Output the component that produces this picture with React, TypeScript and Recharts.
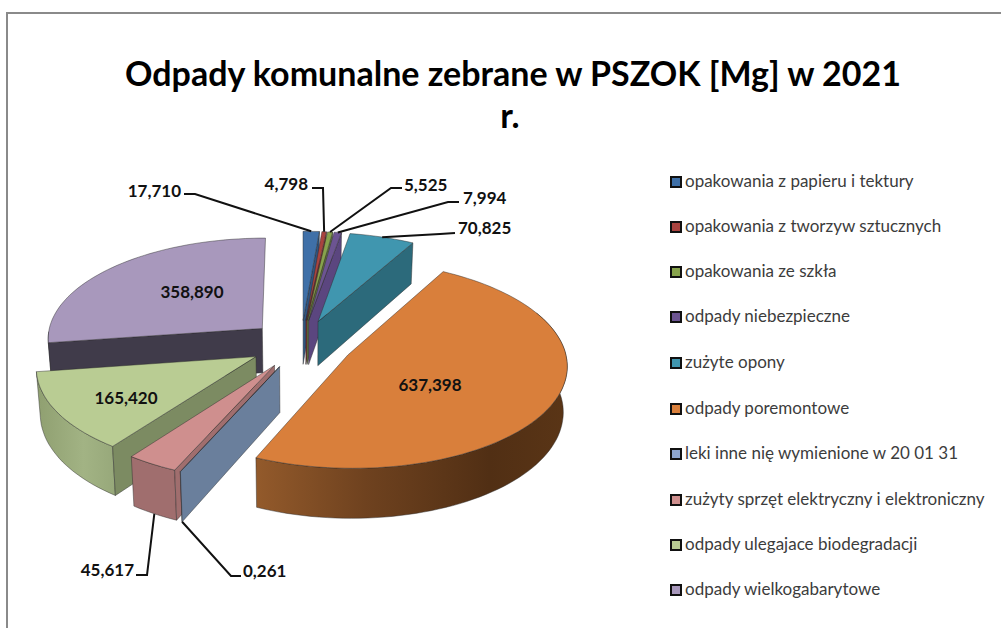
import { Legend, Pie, PieChart } from "recharts";

const categories = [
  "opakowania z papieru i tektury",
  "opakowania z tworzyw sztucznych",
  "opakowania ze szkła",
  "odpady niebezpieczne",
  "zużyte opony",
  "odpady poremontowe",
  "leki inne nię wymienione w 20 01 31",
  "zużyty sprzęt elektryczny i elektroniczny",
  "odpady ulegajace biodegradacji",
  "odpady wielkogabarytowe",
];
const values = [17.71, 4.798, 5.525, 7.994, 70.825, 637.398, 0.261, 45.617, 165.42, 358.89];
const valueLabels = ["17,710", "4,798", "5,525", "7,994", "70,825", "637,398", "0,261", "45,617", "165,420", "358,890"];

const topColors = ["#3f70a8", "#a9433f", "#87a34c", "#6c5492", "#4096af", "#d97f3b", "#8ea6cf", "#cf8f8e", "#b9cc93", "#a898bc"];
const sideColors = ["#2f5480", "#7c302e", "#64793a", "#5b467f", "#2c6a7b", "url(#orangeSide)", "#6a7f9c", "#a06e6e", "#7c8b62", "#403b4a"];
const arcColors = ["#2f5480", "#7c302e", "#64793a", "#5b467f", "#2c6a7b", "url(#orangeSide)", "#6a7f9c", "#a06e6e", "url(#greenSide)", "#403b4a"];

// drawn back to front: right half clockwise, then left half counter-clockwise
const rightHalf = categories.slice(0, 6);
const table = categories.map((name, i) => ({ name, value: values[i] }));
const reversedTable = [...table].reverse();

// label position and leader elbow (text anchor side), null elbow = label inside the slice
const labelLayout: { x: number; y: number; anchor: string; elbow: number[][] | null; front: boolean }[] = [
  { x: 181, y: 190, anchor: "end", elbow: [[184, 194], [195, 194]], front: false },
  { x: 308, y: 183, anchor: "end", elbow: [[312, 188], [323, 188]], front: false },
  { x: 404, y: 184, anchor: "start", elbow: [[402, 188], [391, 188]], front: false },
  { x: 463, y: 197, anchor: "start", elbow: [[459, 202], [448, 202]], front: false },
  { x: 458, y: 227, anchor: "start", elbow: [[455, 233], [440, 234]], front: false },
  { x: 430, y: 384, anchor: "middle", elbow: null, front: false },
  { x: 243, y: 570, anchor: "start", elbow: [[241, 576], [231, 576]], front: true },
  { x: 134, y: 569, anchor: "end", elbow: [[136, 575], [147, 575]], front: true },
  { x: 126, y: 397, anchor: "middle", elbow: null, front: false },
  { x: 192, y: 291, anchor: "middle", elbow: null, front: false },
];

const legendRows = [181, 226, 271, 316, 362, 408, 453, 499, 544, 589];

const FONT = "Lato, sans-serif";
const EXPLODE = 0.24;
const SQUASH = 0.468;
const PERSPECTIVE = 0.09;
const DEPTH = 45;

type Pt = { x: number; y: number };

const rad = (deg: number) => (deg * Math.PI) / 180;

// clockwise angle from 12 o'clock -> unit disc direction (y down)
const dir = (theta: number) => ({ u: Math.sin(rad(theta)), v: -Math.cos(rad(theta)) });

const project = (X: number, Y: number, cx: number, cy: number, r: number, lower: boolean): Pt => {
  const s = 1 / (1 - PERSPECTIVE * Y);
  const x = cx + r * X * s;
  const y = cy + r * SQUASH * Y * s;
  if (!lower) return { x, y };
  return { x: cx + (x - cx) * 0.985, y: y + DEPTH * s };
};

const pathOf = (pts: Pt[]) => pts.map((p, i) => `${i ? "L" : "M"}${p.x.toFixed(1)} ${p.y.toFixed(1)}`).join(" ") + " Z";

const sliceAngles = (startAngle: number, endAngle: number) => {
  let a = Math.min(90 - startAngle, 90 - endAngle);
  let b = Math.max(90 - startAngle, 90 - endAngle);
  if (b <= 0) {
    a += 360;
    b += 360;
  }
  return [a, b];
};

const Slice3D = (props: any) => {
  const { cx, cy, outerRadius: r, startAngle, endAngle, layer } = props;
  const name = props.name ?? props.payload?.name;
  const idx = categories.indexOf(name);
  const isRight = rightHalf.includes(name);
  if ((layer === "right") !== isRight) return <g />;

  const [a, b] = sliceAngles(startAngle, endAngle);
  const mid = dir((a + b) / 2);
  const ax = mid.u * EXPLODE;
  const ay = mid.v * EXPLODE;
  const apexTop = project(ax, ay, cx, cy, r, false);
  const apexLow = project(ax, ay, cx, cy, r, true);

  const rim = (theta: number, lower: boolean) => {
    const d = dir(theta);
    return project(ax + d.u, ay + d.v, cx, cy, r, lower);
  };
  const arc = (from: number, to: number, lower: boolean) => {
    const n = Math.max(2, Math.ceil((to - from) / 2));
    const pts: Pt[] = [];
    for (let i = 0; i <= n; i++) pts.push(rim(from + ((to - from) * i) / n, lower));
    return pts;
  };

  const edge = { stroke: "#2b2b2b", strokeWidth: 0.6, strokeOpacity: 0.75, strokeLinejoin: "round" as const };
  const faces = [];
  // outer wall goes first, a bit past the right side point so the silhouette has no notch
  const wallFrom = Math.max(a, 65);
  const wallTo = Math.min(b, 268);
  if (wallTo > wallFrom) {
    faces.push(
      <path
        key="wall"
        d={pathOf([...arc(wallFrom, wallTo, false), ...arc(wallFrom, wallTo, true).reverse()])}
        fill={arcColors[idx]}
        {...edge}
      />,
    );
  }
  if (Math.sin(rad(a)) < 0) {
    faces.push(
      <path key="start" d={pathOf([apexTop, rim(a, false), rim(a, true), apexLow])} fill={sideColors[idx]} {...edge} />,
    );
  }
  if (Math.sin(rad(b)) > 0) {
    faces.push(
      <path key="end" d={pathOf([apexTop, rim(b, false), rim(b, true), apexLow])} fill={sideColors[idx]} {...edge} />,
    );
  }

  return (
    <g>
      {faces}
      <path d={pathOf([apexTop, ...arc(a, b, false)])} fill={topColors[idx]} {...edge} />
    </g>
  );
};

const SliceLabel = (props: any) => {
  const { cx, cy, outerRadius: r, startAngle, endAngle, index } = props;
  const layout = labelLayout[index];
  const [a, b] = sliceAngles(startAngle, endAngle);
  const mid = dir((a + b) / 2);
  const tip = project(mid.u * (1 + EXPLODE), mid.v * (1 + EXPLODE), cx, cy, r, layout.front);
  return (
    <g>
      {layout.elbow && (
        <polyline
          points={[...layout.elbow, [tip.x, tip.y]].map((p) => p.join(",")).join(" ")}
          fill="none"
          stroke="#111"
          strokeWidth={2}
        />
      )}
      <text
        x={layout.x}
        y={layout.y}
        textAnchor={layout.anchor as any}
        dominantBaseline="central"
        fontFamily={FONT}
        fontWeight={700}
        fontSize={17}
        fill="#111"
      >
        {valueLabels[index]}
      </text>
    </g>
  );
};

const LegendBox = () => (
  <div style={{ position: "relative", width: 1001, height: 628 }}>
    {categories.map((name, i) => (
      <div key={name}>
        <div
          style={{
            position: "absolute",
            left: 670,
            top: legendRows[i] - 5,
            width: 8,
            height: 8,
            background: topColors[i],
            border: "2px solid #111",
          }}
        />
        <div
          style={{
            position: "absolute",
            left: 685,
            top: legendRows[i] - 11,
            lineHeight: "22px",
            fontFamily: FONT,
            fontSize: 17,
            color: "#3c3c3c",
            whiteSpace: "nowrap",
          }}
        >
          {name}
        </div>
      </div>
    ))}
  </div>
);

export default function App() {
  return (
    <div style={{ position: "absolute", left: 0, top: 0, width: 1001, height: 628, background: "#fff", overflow: "hidden" }}>
      <div
        style={{
          position: "absolute",
          left: 6,
          top: 12,
          width: 1001,
          height: 640,
          borderLeft: "2px solid #8a8a8a",
          borderTop: "2px solid #8a8a8a",
        }}
      />
      <div style={{ position: "absolute", left: 0, top: 0 }}>
        <PieChart width={1001} height={628} margin={{ top: 0, right: 0, bottom: 0, left: 0 }}>
          <defs>
            <linearGradient id="orangeSide" x1="0" y1="0" x2="1" y2="0">
              <stop offset="0%" stopColor="#935a2b" />
              <stop offset="35%" stopColor="#6f421f" />
              <stop offset="75%" stopColor="#512f14" />
              <stop offset="100%" stopColor="#5a3516" />
            </linearGradient>
            <linearGradient id="greenSide" x1="0" y1="0" x2="1" y2="0">
              <stop offset="0%" stopColor="#8f9f70" />
              <stop offset="60%" stopColor="#a2b384" />
              <stop offset="100%" stopColor="#97a87a" />
            </linearGradient>
          </defs>
          <text x={513} y={72} textAnchor="middle" dominantBaseline="central" fontFamily={FONT} fontWeight={700} fontSize={34} fill="#000">
            Odpady komunalne zebrane w PSZOK [Mg] w 2021
          </text>
          <text x={510} y={114} textAnchor="middle" dominantBaseline="central" fontFamily={FONT} fontWeight={700} fontSize={34} fill="#000">
            r.
          </text>
          <Pie
            data={table}
            dataKey="value"
            nameKey="name"
            cx={301}
            cy={344}
            outerRadius={216}
            startAngle={90}
            endAngle={-270}
            stroke="none"
            legendType="none"
            isAnimationActive={false}
            shape={(p: any) => <Slice3D {...p} layer="right" />}
            label={(p: any) => <SliceLabel {...p} />}
            labelLine={false}
          />
          <Pie
            data={reversedTable}
            dataKey="value"
            nameKey="name"
            cx={301}
            cy={344}
            outerRadius={216}
            startAngle={90}
            endAngle={450}
            stroke="none"
            legendType="none"
            isAnimationActive={false}
            shape={(p: any) => <Slice3D {...p} layer="left" />}
          />
          <Legend content={() => <LegendBox />} wrapperStyle={{ left: 0, top: 0, width: 1001, height: 628 }} />
        </PieChart>
      </div>
    </div>
  );
}
